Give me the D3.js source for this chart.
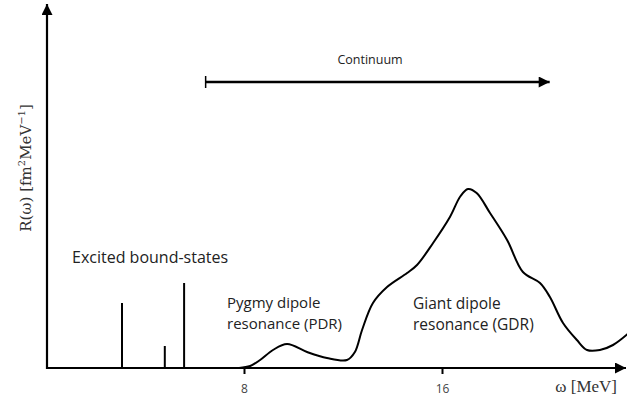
<!DOCTYPE html>
<html>
<head>
<meta charset="utf-8">
<script src="https://cdn.jsdelivr.net/npm/d3@7"></script>
<style>
  body { margin: 0; background: #fff; }
  svg { display: block; }
  .lbl { font-family: "Open Sans", sans-serif; fill: #222; }
</style>
</head>
<body>
<svg id="chart" width="627" height="401"></svg>
<script>
// energies in MeV, strengths in arbitrary units
const boundEnergies = [3.07, 4.8, 5.58]
const boundStrengths = [65, 22, 85]

const curveEnergies = [7.8, 8.25, 8.65, 9.17, 9.74, 10.55, 11.35, 12.16, 12.48, 12.77, 13.21, 13.78, 14.59, 14.99, 15.64, 16.32, 16.75, 17.05, 17.4, 17.94, 18.63, 19.27, 19.96, 20.36, 20.89, 21.45, 21.86, 22.38, 22.91, 23.5]
const curveStrengths = [0, 2, 8, 18, 24, 16, 10, 8, 16, 38, 65, 81, 95, 103, 125, 151, 172, 179, 175, 155, 128, 96, 85, 71, 45, 28, 18, 18, 23, 34]

const tickValues = [8, 16]
const continuumRange = [6.45, 20.35]

const svg = d3.select('#chart')

const x = d3.scaleLinear().domain([0, 16]).range([46, 442])
const y = d3.scaleLinear().domain([0, 360]).range([368, 8])

const defs = svg.append('defs')
function arrowMarker (id, w, h) {
  defs.append('marker')
    .attr('id', id)
    .attr('viewBox', '0 0 10 10')
    .attr('refX', 10).attr('refY', 5)
    .attr('markerUnits', 'userSpaceOnUse')
    .attr('markerWidth', w).attr('markerHeight', h)
    .attr('orient', 'auto')
    .append('path')
    .attr('d', 'M0,0 L10,5 L0,10 Z')
    .attr('fill', '#000')
}
arrowMarker('ax', 13, 11)
arrowMarker('cont', 15, 11)

// axes with arrowheads
svg.append('line')
  .attr('x1', x(0)).attr('y1', y(0))
  .attr('x2', 626).attr('y2', y(0))
  .attr('stroke', '#000').attr('stroke-width', 2.2)
  .attr('marker-end', 'url(#ax)')

svg.append('line')
  .attr('x1', x(0) + 1).attr('y1', y(0) + 1)
  .attr('x2', x(0) + 1).attr('y2', 4)
  .attr('stroke', '#000').attr('stroke-width', 2.2)
  .attr('marker-end', 'url(#ax)')

const xAxis = d3.axisBottom(x).tickValues(tickValues).tickSize(6).tickPadding(10)
const gx = svg.append('g').attr('transform', `translate(0,${y(0)})`).call(xAxis)
gx.select('.domain').remove()
gx.selectAll('.tick line').attr('stroke', '#000').attr('stroke-width', 2)
gx.selectAll('.tick text')
  .attr('font-family', '"Open Sans", sans-serif')
  .attr('font-size', 12)
  .attr('fill', '#444')

// bound states
svg.selectAll('.bound')
  .data(boundEnergies)
  .enter().append('line')
  .attr('class', 'bound')
  .attr('x1', d => x(d)).attr('x2', d => x(d))
  .attr('y1', y(0))
  .attr('y2', (d, i) => y(boundStrengths[i]))
  .attr('stroke', '#000').attr('stroke-width', 2)

// continuum response
const pts = curveEnergies.map((e, i) => [e, curveStrengths[i]])
const line = d3.line().x(d => x(d[0])).y(d => y(d[1])).curve(d3.curveCatmullRom.alpha(0.5))
svg.append('path')
  .datum(pts)
  .attr('d', line)
  .attr('fill', 'none')
  .attr('stroke', '#000')
  .attr('stroke-width', 2)

// continuum arrow
const cy = 82
svg.append('line')
  .attr('x1', x(continuumRange[0])).attr('x2', x(continuumRange[1]))
  .attr('y1', cy).attr('y2', cy)
  .attr('stroke', '#000').attr('stroke-width', 2.5)
  .attr('marker-end', 'url(#cont)')
svg.append('line')
  .attr('x1', x(continuumRange[0])).attr('x2', x(continuumRange[0]))
  .attr('y1', cy - 6).attr('y2', cy + 6)
  .attr('stroke', '#000').attr('stroke-width', 1.5)
svg.append('text').attr('class', 'lbl')
  .attr('x', 370).attr('y', 64)
  .attr('text-anchor', 'middle')
  .attr('font-size', 12.5)
  .text('Continuum')

// annotations
svg.append('text').attr('class', 'lbl')
  .attr('x', 72).attr('y', 263)
  .attr('font-size', 16)
  .text('Excited bound-states')

const pdr = svg.append('text').attr('class', 'lbl').attr('font-size', 15)
pdr.append('tspan').attr('x', 227).attr('y', 308).text('Pygmy dipole')
pdr.append('tspan').attr('x', 227).attr('y', 329).text('resonance (PDR)')

const gdr = svg.append('text').attr('class', 'lbl').attr('font-size', 15.5)
gdr.append('tspan').attr('x', 413).attr('y', 309).text('Giant dipole')
gdr.append('tspan').attr('x', 413).attr('y', 330).text('resonance (GDR)')

// axis titles
const yt = svg.append('text')
  .attr('transform', 'translate(31,168) rotate(-90)')
  .attr('text-anchor', 'middle')
  .attr('font-family', '"DejaVu Serif", serif')
  .attr('font-size', 15)
  .attr('fill', '#333')
yt.append('tspan').text('R(ω) [fm')
yt.append('tspan').attr('font-size', 10).attr('dy', -6).text('2')
yt.append('tspan').attr('dy', 6).text('MeV')
yt.append('tspan').attr('font-size', 10).attr('dy', -6).text('−1')
yt.append('tspan').attr('dy', 6).text(']')

svg.append('text')
  .attr('x', 617).attr('y', 392)
  .attr('text-anchor', 'end')
  .attr('font-family', '"Liberation Serif", serif')
  .attr('font-size', 17)
  .attr('fill', '#333')
  .text('ω [MeV]')
</script>
</body>
</html>
